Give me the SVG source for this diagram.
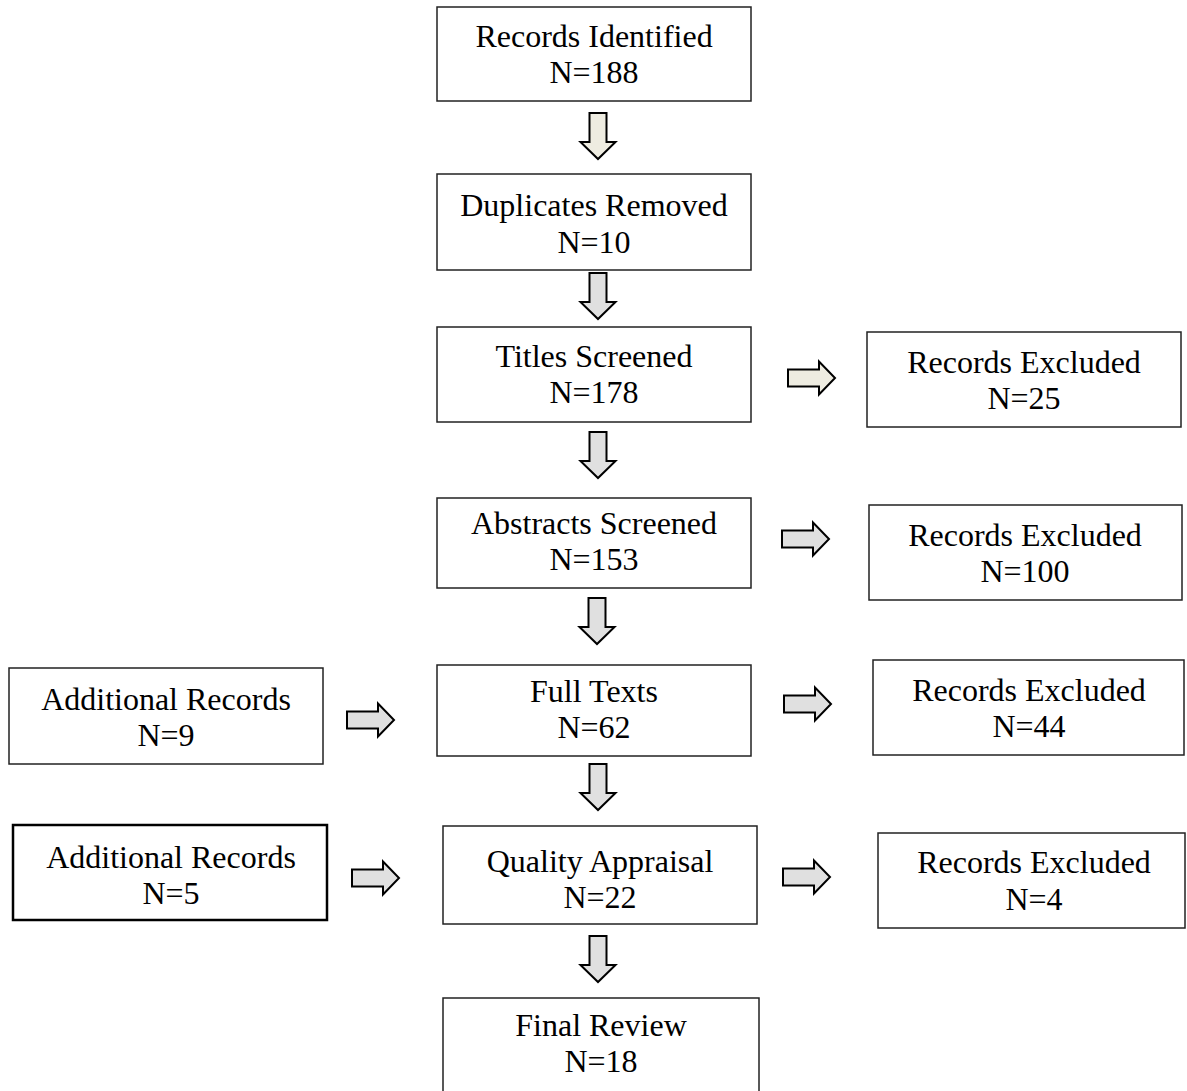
<svg xmlns="http://www.w3.org/2000/svg" width="1187" height="1091" viewBox="0 0 1187 1091">
  <style>
    .box { fill: #ffffff; stroke: #222222; stroke-width: 1.5; }
    .box.heavy { stroke: #000000; stroke-width: 2.5; }
    .lbl { font-family: "Liberation Serif", "Times New Roman", serif; font-size: 32px; fill: #000000; text-anchor: middle; }
    .arw { stroke: #000000; stroke-width: 2; stroke-linejoin: miter; }
    .beige { fill: #eeece1; }
    .grey { fill: #e0e0e0; }
  </style>
  <defs>
    <!-- block arrows: origin at the tail centre -->
    <path id="down" d="M-8.5,0 V29 H-17.5 L0,46 L17.5,29 H8.5 V0 Z"/>
    <path id="right" d="M0,-8.5 H31 V-16.5 L47,0 L31,16.5 V8.5 H0 Z"/>
  </defs>

  <g id="connectors">
    <use href="#down" x="598" y="113" class="arw beige"/>
    <use href="#down" x="598" y="273" class="arw grey"/>
    <use href="#down" x="598" y="432" class="arw grey"/>
    <use href="#down" x="597" y="598" class="arw grey"/>
    <use href="#down" x="598" y="764" class="arw grey"/>
    <use href="#down" x="598" y="936" class="arw grey"/>
    <use href="#right" x="788" y="378" class="arw beige"/>
    <use href="#right" x="782" y="539" class="arw grey"/>
    <use href="#right" x="347" y="720" class="arw grey"/>
    <use href="#right" x="784" y="704" class="arw grey"/>
    <use href="#right" x="352" y="878" class="arw grey"/>
    <use href="#right" x="783" y="877" class="arw grey"/>
  </g>

  <g id="records-identified">
    <rect class="box" x="437" y="7" width="314" height="94"/>
    <text class="lbl" x="594" y="47">Records Identified</text>
    <text class="lbl" x="594" y="83">N=188</text>
  </g>
  <g id="duplicates-removed">
    <rect class="box" x="437" y="174" width="314" height="96"/>
    <text class="lbl" x="594" y="216">Duplicates Removed</text>
    <text class="lbl" x="594" y="253">N=10</text>
  </g>
  <g id="titles-screened">
    <rect class="box" x="437" y="327" width="314" height="95"/>
    <text class="lbl" x="594" y="367">Titles Screened</text>
    <text class="lbl" x="594" y="403">N=178</text>
  </g>
  <g id="excluded-titles">
    <rect class="box" x="867" y="332" width="314" height="95"/>
    <text class="lbl" x="1024" y="373">Records Excluded</text>
    <text class="lbl" x="1024" y="409">N=25</text>
  </g>
  <g id="abstracts-screened">
    <rect class="box" x="437" y="498" width="314" height="90"/>
    <text class="lbl" x="594" y="534">Abstracts Screened</text>
    <text class="lbl" x="594" y="570">N=153</text>
  </g>
  <g id="excluded-abstracts">
    <rect class="box" x="869" y="505" width="313" height="95"/>
    <text class="lbl" x="1025" y="546">Records Excluded</text>
    <text class="lbl" x="1025" y="582">N=100</text>
  </g>
  <g id="additional-records-1">
    <rect class="box" x="9" y="668" width="314" height="96"/>
    <text class="lbl" x="166" y="710">Additional Records</text>
    <text class="lbl" x="166" y="746">N=9</text>
  </g>
  <g id="full-texts">
    <rect class="box" x="437" y="665" width="314" height="91"/>
    <text class="lbl" x="594" y="702">Full Texts</text>
    <text class="lbl" x="594" y="738">N=62</text>
  </g>
  <g id="excluded-full-texts">
    <rect class="box" x="873" y="660" width="311" height="95"/>
    <text class="lbl" x="1029" y="701">Records Excluded</text>
    <text class="lbl" x="1029" y="737">N=44</text>
  </g>
  <g id="additional-records-2">
    <rect class="box heavy" x="13" y="825" width="314" height="95"/>
    <text class="lbl" x="171" y="868">Additional Records</text>
    <text class="lbl" x="171" y="904">N=5</text>
  </g>
  <g id="quality-appraisal">
    <rect class="box" x="443" y="826" width="314" height="98"/>
    <text class="lbl" x="600" y="872">Quality Appraisal</text>
    <text class="lbl" x="600" y="908">N=22</text>
  </g>
  <g id="excluded-quality">
    <rect class="box" x="878" y="833" width="307" height="95"/>
    <text class="lbl" x="1034" y="873">Records Excluded</text>
    <text class="lbl" x="1034" y="910">N=4</text>
  </g>
  <g id="final-review">
    <rect class="box" x="443" y="998" width="316" height="100"/>
    <text class="lbl" x="601" y="1036">Final Review</text>
    <text class="lbl" x="601" y="1072">N=18</text>
  </g>
</svg>
